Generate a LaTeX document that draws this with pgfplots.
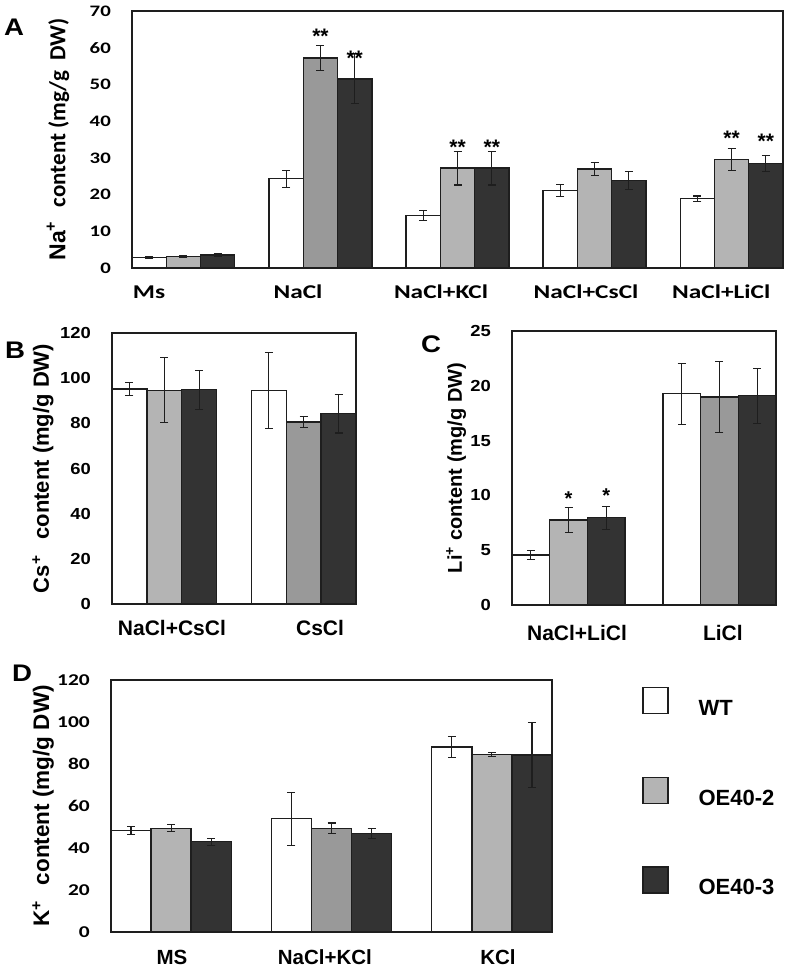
\documentclass[border=0pt]{standalone}
\usepackage{fontspec}
\usepackage{pgfplots}
\pgfplotsset{compat=1.18}
\setmainfont{Liberation Sans}
\newfontfamily\fcar[FakeStretch=1.3]{Carlito}
\newfontfamily\fcarn{Carlito}
\newfontfamily\fari{Liberation Sans}
\newfontfamily\faris[FakeStretch=1.15]{Liberation Sans}
\definecolor{lg}{HTML}{B4B4B4}
\definecolor{mg}{HTML}{999999}
\definecolor{dg}{HTML}{333333}
\definecolor{edge}{HTML}{1E1E1E}
\newcommand\fs[1]{\fontsize{#1pt}{#1pt}\selectfont}
\pgfplotsset{
  panel/.style={
    scale only axis, ybar, bar width=0.25, bar shift=0pt,
    ymin=0, xmin=-0.375, clip=false,
    axis line style={edge, line width=1.2pt},
    major tick length=0pt,
    /pgf/number format/assume math mode=true,
    xticklabel style={anchor=center, inner sep=0pt},
    yticklabel style={anchor=east, inner sep=0pt, xshift=-21pt},
    ylabel style={anchor=center},
    every axis plot/.append style={draw=edge, line width=1.4pt, bar shift=0pt,
      /pgfplots/error bars/y dir=both, /pgfplots/error bars/y explicit,
      /pgfplots/error bars/error bar style={edge, line width=1.1pt},
      /pgfplots/error bars/error mark options={rotate=90, edge, mark size=4pt, line width=1.1pt}},
  },
}
\begin{document}
\begin{tikzpicture}[x=1pt,y=1pt]
\useasboundingbox (0,0) rectangle (787,969);
% ---------------- A ----------------
\begin{axis}[panel, at={(132pt,701pt)}, anchor=south west,
  width=651pt, height=257pt, xmax=4.375, ymax=70,
  ytick={0,10,...,70},
  xtick={-0.251,0.836,1.880,2.938,3.924},
  xticklabels={Ms,NaCl,NaCl+KCl,NaCl+CsCl,NaCl+LiCl},
  xticklabel style={yshift=-24pt, font=\fcar\bfseries\fs{19.5}},
  yticklabel style={font=\fcar\bfseries\fs{16}},
  ylabel={{\fari Na\textsuperscript{+}}\hspace{14pt}content (mg/g\hspace{10pt}DW)},
  ylabel style={at={(axis description cs:-0.1137,0.5)}, font=\fcarn\bfseries\fs{23}},
]
\addplot[fill=white] table[x=x,y=y,y error=e,row sep=\\]{x y e\\ -0.25 2.8 0.25\\ 0.75 24.3 2.3\\ 1.75 14.3 1.4\\ 2.75 21.1 1.7\\ 3.75 18.9 0.7\\};
\addplot[fill=lg] table[x=x,y=y,y error=e,row sep=\\]{x y e\\ 0 3.2 0.2\\ 2 27.2 4.6\\ 3 27.0 1.7\\ 4 29.5 3.0\\};
\addplot[fill=mg] table[x=x,y=y,y error=e,row sep=\\]{x y e\\ 1 57.2 3.5\\};
\addplot[fill=dg] table[x=x,y=y,y error=e,row sep=\\]{x y e\\ 0.25 3.5 0.3\\ 1.25 51.5 6.8\\ 2.25 27.2 4.6\\ 3.25 23.9 2.4\\ 4.25 28.5 2.2\\};
\node[font=\fari\bfseries\fs{21}, anchor=base, yshift=-12pt] at (axis cs:1,64.3) {**};
\node[font=\fari\bfseries\fs{21}, anchor=base, yshift=-12pt] at (axis cs:1.25,58.5) {**};
\node[font=\fari\bfseries\fs{21}, anchor=base, yshift=-12pt] at (axis cs:2,34.2) {**};
\node[font=\fari\bfseries\fs{21}, anchor=base, yshift=-12pt] at (axis cs:2.25,34.2) {**};
\node[font=\fari\bfseries\fs{21}, anchor=base, yshift=-12pt] at (axis cs:4,36.5) {**};
\node[font=\fari\bfseries\fs{21}, anchor=base, yshift=-12pt] at (axis cs:4.25,35.8) {**};
\end{axis}
% ---------------- B ----------------
\begin{axis}[panel, at={(112pt,365pt)}, anchor=south west,
  width=244pt, height=271pt, xmax=1.375, ymax=120,
  ytick={0,20,...,120},
  xtick={0.055,1.117}, xticklabels={NaCl+CsCl,CsCl},
  xticklabel style={yshift=-24pt, font=\fari\bfseries\fs{21}},
  yticklabel style={font=\faris\bfseries\fs{16}},
  ylabel={Cs\textsuperscript{+}\hspace{16pt}content (mg/g DW)},
  ylabel style={at={(axis description cs:-0.283,0.5)}, font=\fari\bfseries\fs{22}},
]
\addplot[fill=white] table[x=x,y=y,y error=e,row sep=\\]{x y e\\ -0.25 95.2 3.0\\ 0.75 94.6 16.7\\};
\addplot[fill=lg] table[x=x,y=y,y error=e,row sep=\\]{x y e\\ 0 94.6 14.4\\};
\addplot[fill=mg] table[x=x,y=y,y error=e,row sep=\\]{x y e\\ 1 80.6 2.6\\};
\addplot[fill=dg] table[x=x,y=y,y error=e,row sep=\\]{x y e\\ 0.25 94.9 8.6\\ 1.25 84.3 8.6\\};
\end{axis}
% ---------------- C ----------------
\begin{axis}[panel, at={(512pt,364pt)}, anchor=south west,
  width=264pt, height=274pt, xmax=1.375, ymax=25,
  ytick={0,5,...,25},
  xtick={0.056,1.023}, xticklabels={NaCl+LiCl,LiCl},
  xticklabel style={yshift=-28pt, font=\fari\bfseries\fs{21}},
  yticklabel style={font=\faris\bfseries\fs{16}},
  ylabel={Li\textsuperscript{+}\hspace{6pt}content (mg/g DW)},
  ylabel style={at={(axis description cs:-0.212,0.5)}, font=\fari\bfseries\fs{20}},
]
\addplot[fill=white] table[x=x,y=y,y error=e,row sep=\\]{x y e\\ -0.25 4.57 0.4\\ 0.75 19.27 2.8\\};
\addplot[fill=lg] table[x=x,y=y,y error=e,row sep=\\]{x y e\\ 0 7.77 1.14\\};
\addplot[fill=mg] table[x=x,y=y,y error=e,row sep=\\]{x y e\\ 1 18.99 3.25\\};
\addplot[fill=dg] table[x=x,y=y,y error=e,row sep=\\]{x y e\\ 0.25 7.96 1.04\\ 1.25 19.1 2.5\\};
\node[font=\fari\bfseries\fs{20}, anchor=base, yshift=-11.5pt] at (axis cs:0,10.15) {*};
\node[font=\fari\bfseries\fs{20}, anchor=base, yshift=-11.5pt] at (axis cs:0.25,10.4) {*};
\end{axis}
% ---------------- D ----------------
\begin{axis}[panel, at={(111pt,37pt)}, anchor=south west,
  width=441pt, height=252pt, xmax=2.375, ymax=120,
  ytick={0,20,...,120},
  xtick={0.005,0.959,2.038}, xticklabels={MS,NaCl+KCl,KCl},
  xticklabel style={yshift=-25pt, font=\fari\bfseries\fs{20.5}},
  yticklabel style={font=\fcar\bfseries\fs{16.5}},
  ylabel={K\textsuperscript{+}\hspace{16pt}content (mg/g DW)},
  ylabel style={at={(axis description cs:-0.154,0.5)}, font=\fari\bfseries\fs{22.5}},
  legend cell align=left,
  legend style={at={(rel axis cs:1,1)}, anchor=north west, xshift=90pt, yshift=-7pt,
    draw=none, fill=none, inner sep=0pt, outer sep=0pt, row sep=59.5pt, column sep=30pt,
    font=\fari\bfseries\fs{22}, nodes={inner sep=0pt}},
  every axis plot/.append style={legend image code/.code={\draw[#1, line width=1.5pt, draw=edge] (0pt,-5pt) rectangle (25pt,21pt);}},
]
\addplot[fill=white] table[x=x,y=y,y error=e,row sep=\\]{x y e\\ -0.25 48.3 1.9\\ 0.75 54.0 12.6\\ 1.75 88.1 5.2\\};
\addplot[fill=lg] table[x=x,y=y,y error=e,row sep=\\]{x y e\\ 0 49.4 1.7\\ 2 84.6 0.9\\};
\addplot[fill=dg] table[x=x,y=y,y error=e,row sep=\\]{x y e\\ 0.25 43.0 1.7\\ 1.25 47.0 2.4\\ 2.25 84.3 15.3\\};
\addplot[fill=mg] table[x=x,y=y,y error=e,row sep=\\]{x y e\\ 1 49.4 2.5\\};
\legend{WT,OE40-2,OE40-3}
\end{axis}
% panel letters
\node[font=\faris\bfseries\fs{24}] at (14,942) {A};
\node[font=\faris\bfseries\fs{24}] at (15,619) {B};
\node[font=\faris\bfseries\fs{24}] at (431,625) {C};
\node[font=\faris\bfseries\fs{24}] at (22,296) {D};
\end{tikzpicture}
\end{document}
